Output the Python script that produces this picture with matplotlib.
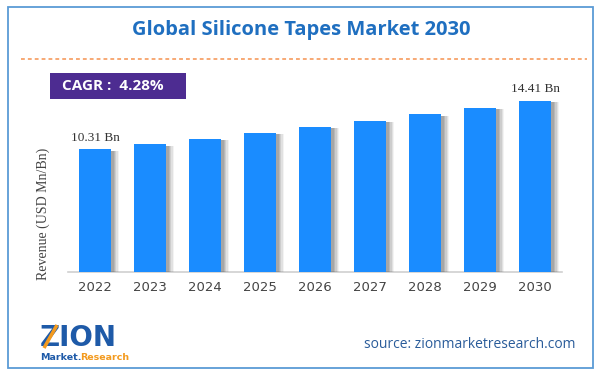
import matplotlib
matplotlib.use("Agg")
import matplotlib.pyplot as plt
import matplotlib.patheffects as pe
from matplotlib.patches import Rectangle

years = ["2022", "2023", "2024", "2025", "2026", "2027", "2028", "2029", "2030"]
revenue = [10.31, 10.75, 11.21, 11.69, 12.19, 12.71, 13.26, 13.83, 14.41]
first_label = "10.31 Bn"
last_label = "14.41 Bn"
title = "Global Silicone Tapes Market 2030"
cagr = "CAGR :  4.28%"
ylabel = "Revenue (USD Mn/Bn)"
source = "source: zionmarketresearch.com"

W, H = 601, 375
fig = plt.figure(figsize=(W / 100, H / 100), dpi=100)
fig.patch.set_facecolor("white")

def fx(px):
    return px / W

def fy(py):
    return 1 - py / H

# outer border
fig.add_artist(Rectangle((fx(7.5), fy(368)), fx(585), (361) / H, transform=fig.transFigure,
                         fill=False, edgecolor="#5b9bd5", linewidth=1.3))

# title
fig.text(fx(301), fy(30), title, ha="center", va="center", fontsize=14.5,
         fontweight="bold", color="#1f6fc0", family="Open Sans")

# dashed line
fig.add_artist(plt.Line2D([fx(21), fx(587)], [fy(59), fy(59)], transform=fig.transFigure,
                          color="#f5924f", linewidth=1.1, linestyle=(0, (2.5, 2))))

# CAGR box
fig.add_artist(Rectangle((fx(50), fy(99)), fx(136), 26 / H, transform=fig.transFigure,
                         facecolor="#4d2c91", edgecolor="none"))
fig.text(fx(62), fy(86.5), cagr, ha="left", va="center", fontsize=11,
         fontweight="bold", color="white", family="Open Sans")

# axes
ax = fig.add_axes([fx(68), fy(271.5), fx(562) - fx(68), (271.5 - 80) / H])
x = list(range(len(years)))
bars = ax.bar(x, revenue, width=0.58, color="#1a8cff", zorder=3)
shadow = [pe.SimplePatchShadow(offset=(o, -1), shadow_rgbFace="#666666", alpha=a)
          for o, a in [(6, 0.08), (5, 0.12), (4, 0.16), (3, 0.2), (2, 0.22)]]
for b in bars:
    b.set_path_effects(shadow + [pe.Normal()])
ax.set_xlim(-0.49, 8.49)
ax.set_ylim(0, 191.5 / 11.85)
for s in ["top", "right", "left"]:
    ax.spines[s].set_visible(False)
ax.spines["bottom"].set_color("#d0d0d0")
ax.spines["bottom"].set_linewidth(1.2)
ax.set_yticks([])
ax.set_xticks(x)
ax.set_xticklabels(years, fontsize=9.5, color="#444444", family="DejaVu Sans")
ax.tick_params(axis="x", length=0, pad=7)
ax.set_facecolor("none")

ax.text(x[0], revenue[0] + 0.45, first_label, ha="center", va="bottom", fontsize=9.5,
        color="#333333", family="Liberation Serif")
ax.text(x[-1], revenue[-1] + 0.45, last_label, ha="center", va="bottom", fontsize=9.5,
        color="#333333", family="Liberation Serif")

fig.text(fx(43), fy(214), ylabel, rotation=90, ha="center", va="center", fontsize=10,
         color="#444444", family="Liberation Serif")

# logo
fig.text(fx(40), fy(346), "ZION", ha="left", va="baseline", fontsize=20, fontweight="heavy",
         color="#1e5aa8", family="DejaVu Sans")
fig.add_artist(plt.Line2D([fx(44), fx(57)], [fy(348), fy(325)], transform=fig.transFigure,
                          color="#f39a1e", linewidth=2.5, solid_capstyle="butt", zorder=6))
fig.text(fx(40), fy(360), "Market.", ha="left", va="baseline", fontsize=6.8, fontweight="bold",
         color="#1e5aa8", family="DejaVu Sans")
fig.text(fx(80), fy(360), "Research", ha="left", va="baseline", fontsize=6.8, fontweight="bold",
         color="#f39a1e", family="DejaVu Sans")

fig.text(fx(575), fy(345), source, ha="right", va="center", fontsize=10,
         color="#2a5c9a", family="Open Sans")

fig.savefig("out.png", dpi=100)
